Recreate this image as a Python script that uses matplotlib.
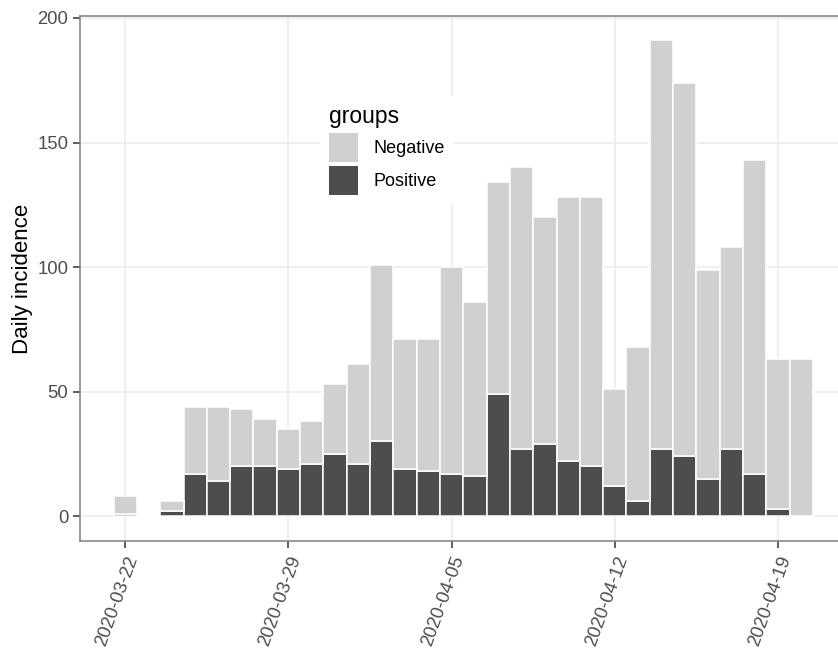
import matplotlib
matplotlib.use("Agg")
import matplotlib.pyplot as plt
import matplotlib.dates as mdates
import numpy as np
import pandas as pd

plt.rcParams['font.family'] = ['Liberation Sans', 'DejaVu Sans']

dates = pd.date_range("2020-03-22", "2020-04-20", freq="D")
total = [8, 0, 6, 44, 44, 43, 39, 35, 38, 53, 61, 101, 71, 71, 100, 86,
         134, 140, 120, 128, 128, 51, 68, 191, 174, 99, 108, 143, 63, 63]
positive = [1, 0, 2, 17, 14, 20, 20, 19, 21, 25, 21, 30, 19, 18, 17, 16,
            49, 27, 29, 22, 20, 12, 6, 27, 24, 15, 27, 17, 3, 0]
negative = [t - p for t, p in zip(total, positive)]
groups = ["Negative", "Positive"]
tick_dates = ["2020-03-22", "2020-03-29", "2020-04-05", "2020-04-12", "2020-04-19"]
y_ticks = [0, 50, 100, 150, 200]

fig = plt.figure(figsize=(8.38, 6.48), dpi=100)
ax = fig.add_axes([80/838, 1 - 541/648, (847 - 80)/838, (541 - 16)/648])

x = mdates.date2num(dates)
c_neg = "#d0d0d0"
c_pos = "#4d4d4d"
bp = ax.bar(x, positive, width=1.0, color=c_pos, edgecolor="white", linewidth=1.1, zorder=2)
bn = ax.bar(x, negative, bottom=positive, width=1.0, color=c_neg, edgecolor="white", linewidth=1.1, zorder=2)

ax.set_xlim(x[0] - 1.94, x[-1] + 1.96)
ax.set_ylim(-10, 200.8)
ax.set_yticks(y_ticks)
tx = mdates.date2num(pd.to_datetime(tick_dates))
ax.set_xticks(tx)
ax.set_xticklabels(tick_dates, rotation=70, ha="right", va="top", rotation_mode="anchor")
ax.grid(True, color="#ebebeb", linewidth=1.1, zorder=0)
ax.set_axisbelow(True)
for s in ax.spines.values():
    s.set_color("#7f7f7f")
    s.set_linewidth(1.1)
ax.tick_params(axis="both", colors="#333333", labelcolor="#4d4d4d", labelsize=13.3,
               length=5, width=1.1)
ax.tick_params(axis="x", pad=4)
ax.set_ylabel("Daily incidence", fontsize=16, color="black", labelpad=3)

leg = ax.legend([bn, bp], groups, title="groups", loc="upper left",
                bbox_to_anchor=(311/838, 1 - 87/648), bbox_transform=fig.transFigure,
                frameon=True, facecolor="white", edgecolor="white", framealpha=1,
                fontsize=13, title_fontsize=16.5, handlelength=1.6, handleheight=2.1,
                labelspacing=0.25, handletextpad=0.85, borderpad=0.5, fancybox=False,
                alignment="left")
leg.get_frame().set_linewidth(0)
for h in leg.legend_handles:
    h.set_edgecolor("none")

fig.savefig("out.png", dpi=100)
